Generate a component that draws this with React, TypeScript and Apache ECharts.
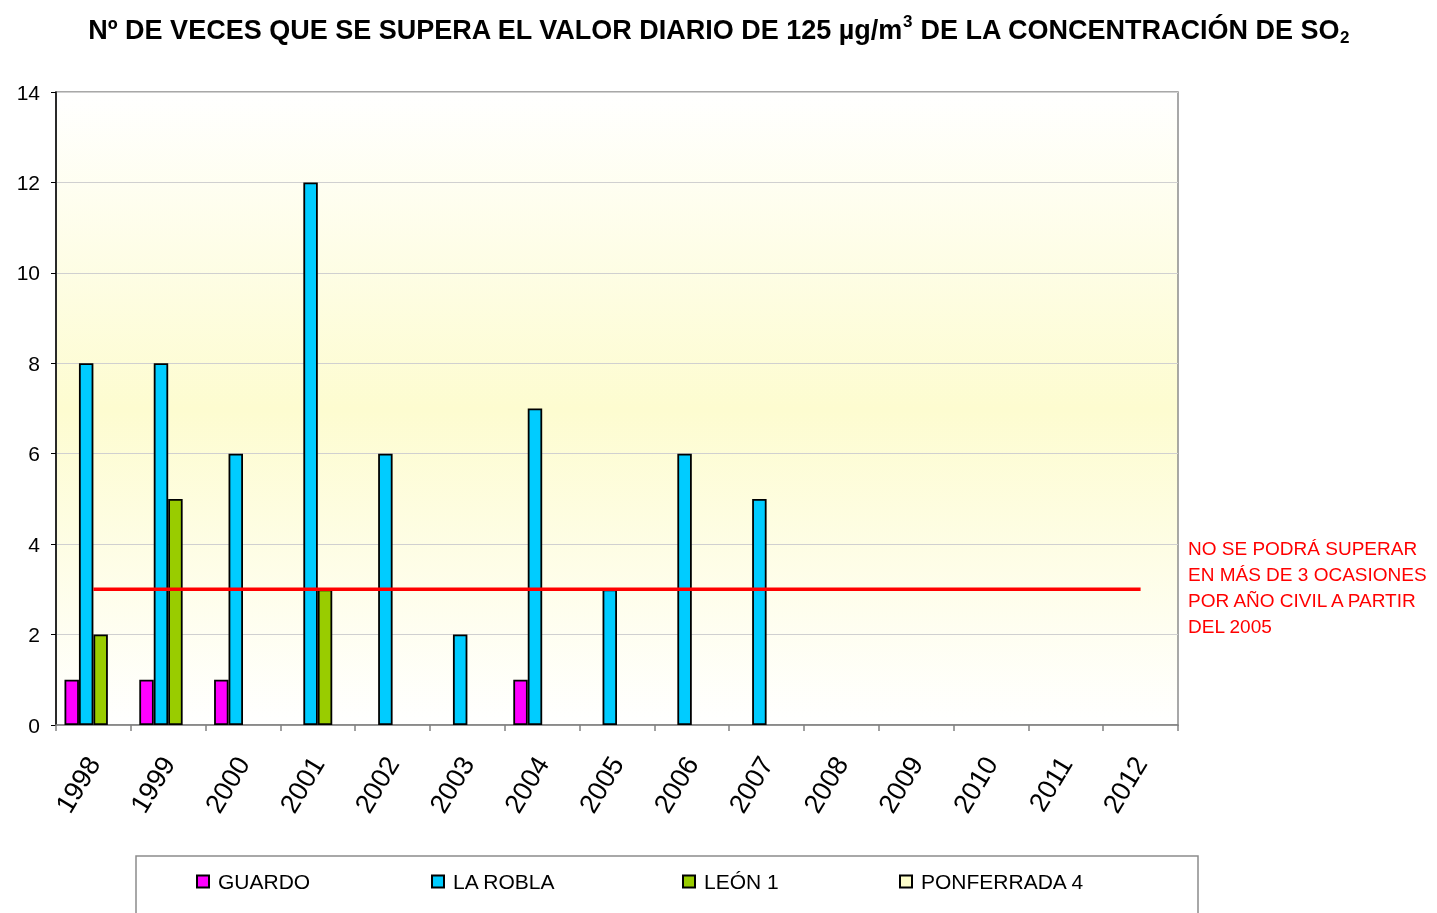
import React, { useEffect, useRef } from "react";
import * as echarts from "echarts";

const years = ["1998","1999","2000","2001","2002","2003","2004","2005","2006","2007","2008","2009","2010","2011","2012"];
const guardo = [1, 1, 1, 0, 0, 0, 1, 0, 0, 0, 0, 0, 0, 0, 0];
const laRobla = [8, 8, 6, 12, 6, 2, 7, 3, 6, 5, 0, 0, 0, 0, 0];
const leon1 = [2, 5, 0, 3, 0, 0, 0, 0, 0, 0, 0, 0, 0, 0, 0];
const ponferrada4 = [0, 0, 0, 0, 0, 0, 0, 0, 0, 0, 0, 0, 0, 0, 0];
const limit = [3, 3, 3, 3, 3, 3, 3, 3, 3, 3, 3, 3, 3, 3, 3];
const yTicks = { min: 0, max: 14, interval: 2 };
const seriesNames = ["GUARDO", "LA ROBLA", "LEÓN 1", "PONFERRADA 4"];
const seriesColors = ["#FF00FF", "#00CCFF", "#99CC00", "#FFFFCC"];
const note = "NO SE PODRÁ SUPERAR\nEN MÁS DE 3 OCASIONES\nPOR AÑO CIVIL A PARTIR\nDEL 2005";

const FONT = "'Liberation Sans', Arial, sans-serif";

export default function App() {
  const ref = useRef<HTMLDivElement>(null);
  useEffect(() => {
    if (!ref.current) return;
    const chart = echarts.init(ref.current, null, { renderer: "svg" });
    const values = [guardo, laRobla, leon1, ponferrada4];
    const nz = (arr: number[]) => arr.map((v) => (v === 0 ? null : v));
    const barSeries = values.map((arr, i) => ({
      name: seriesNames[i],
      type: "bar",
      data: nz(arr),
      barGap: "0%",
      barCategoryGap: "22.7%",
      itemStyle: { color: seriesColors[i], borderColor: "#000", borderWidth: 1.8 },
      z: 2,
    }));
    const legendLefts = [197, 432, 683, 900];
    chart.setOption({
      animation: false,
      textStyle: { fontFamily: FONT },
      title: {
        text: "{t|Nº DE VECES QUE SE SUPERA EL VALOR DIARIO DE 125 µg/m}{sup|3}{t| DE LA CONCENTRACIÓN DE SO}{sub|2}",
        left: "center",
        top: 8,
        textStyle: {
          rich: {
            t: { fontFamily: FONT, fontWeight: "bold", fontSize: 27, color: "#000", lineHeight: 34 },
            sup: { fontFamily: FONT, fontWeight: "bold", fontSize: 17, color: "#000", verticalAlign: "top", padding: [0, 0, 16, 0] },
            sub: { fontFamily: FONT, fontWeight: "bold", fontSize: 17, color: "#000", padding: [14, 0, 0, 0] },
          },
        },
      },
      legend: legendLefts.map((l, i) => ({
        data: [seriesNames[i]],
        left: l - 6,
        top: 866,
        itemWidth: 12,
        itemHeight: 12,
        icon: "rect",
        itemGap: 0,
        textStyle: { fontFamily: FONT, fontSize: 21, color: "#000", padding: [0, 0, 0, 4] },
        selectedMode: false,
      })),
      grid: {
        left: 56,
        top: 92,
        width: 1122,
        height: 633,
        show: true,
        borderColor: "#8c8c8c",
        borderWidth: 1.5,
        backgroundColor: new echarts.graphic.LinearGradient(0, 0, 0, 1, [
          { offset: 0, color: "#ffffff" },
          { offset: 0.5, color: "#fdfcd0" },
          { offset: 1, color: "#ffffff" },
        ]),
      },
      xAxis: {
        type: "category",
        data: years,
        boundaryGap: true,
        axisLine: { lineStyle: { color: "#808080", width: 1.5 } },
        axisTick: { show: true, length: 6, lineStyle: { color: "#808080", width: 1.5 }, alignWithLabel: false },
        axisLabel: { rotate: 59, fontSize: 27, color: "#000", margin: 34, fontFamily: FONT, interval: 0 },
        splitLine: { show: false },
      },
      yAxis: {
        type: "value",
        min: yTicks.min,
        max: yTicks.max,
        interval: yTicks.interval,
        axisLine: { show: true, lineStyle: { color: "#000", width: 1.5 } },
        axisTick: { show: true, length: 5, lineStyle: { color: "#000" } },
        axisLabel: { fontSize: 21, color: "#000", margin: 16, fontFamily: FONT },
        splitLine: { show: true, lineStyle: { color: "#d0d0d0", width: 1 } },
      },
      series: [
        ...barSeries,
        {
          name: "limite",
          type: "line",
          data: limit,
          symbol: "none",
          lineStyle: { color: "#FF0000", width: 3.5 },
          z: 5,
        },
      ],
      graphic: [
        {
          type: "rect",
          shape: { x: 136, y: 856, width: 1062, height: 80 },
          style: { fill: "#fff", stroke: "#8c8c8c", lineWidth: 1.5 },
          z: -1,
        },
        {
          type: "text",
          x: 1188,
          y: 535,
          style: {
            text: note,
            fill: "#FF0000",
            font: `19px ${FONT}`,
            lineHeight: 26,
          },
        },
      ],
    });
    return () => chart.dispose();
  }, []);
  return <div ref={ref} style={{ position: "fixed", left: 0, top: 0, width: 1437, height: 913 }} />;
}
